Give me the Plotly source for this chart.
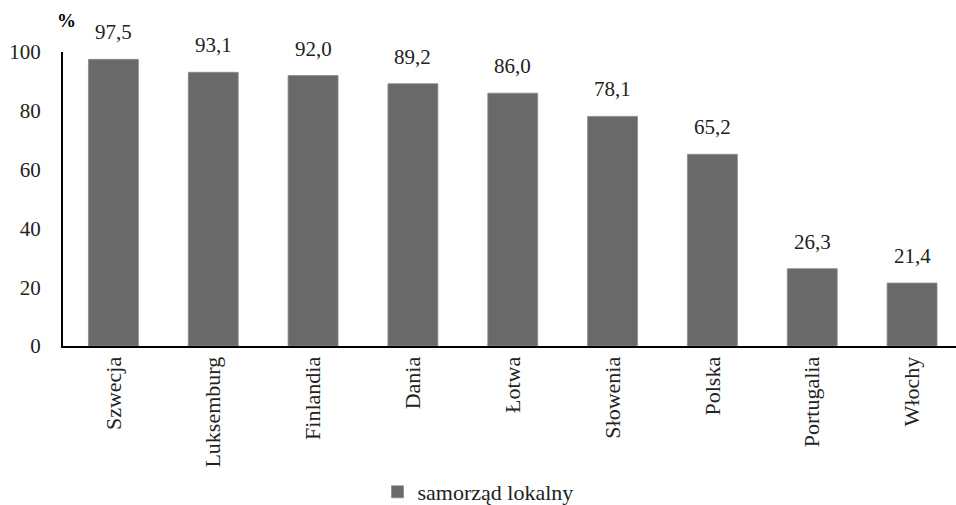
import plotly.graph_objects as go

categories = ["Szwecja", "Luksemburg", "Finlandia", "Dania", "Łotwa", "Słowenia", "Polska", "Portugalia", "Włochy"]
values = [97.5, 93.1, 92.0, 89.2, 86.0, 78.1, 65.2, 26.3, 21.4]
value_labels = ["97,5", "93,1", "92,0", "89,2", "86,0", "78,1", "65,2", "26,3", "21,4"]
series_name = "samorząd lokalny"
y_ticks = [0, 20, 40, 60, 80, 100]

FONT = "'Liberation Serif', 'Times New Roman', serif"
BAR = "#696969"
NUM = 21
TXT = 22

fig = go.Figure()
fig.add_trace(go.Bar(
    x=categories, y=values, name=series_name,
    marker=dict(color=BAR, line=dict(color="#8a8a8a", width=0.8)),
    showlegend=True,
))

for c, v, t in zip(categories, values, value_labels):
    fig.add_annotation(x=c, y=v, text=t, showarrow=False, yanchor="bottom", yshift=13,
                       font=dict(family=FONT, size=NUM, color="#222"))

fig.add_annotation(xref="paper", yref="paper", x=0.0, y=1.0, xanchor="left", yanchor="bottom",
                   xshift=-8, yshift=19, text="<b>%</b>", showarrow=False,
                   font=dict(family=FONT, size=19, color="#000"))

fig.update_layout(
    width=956, height=505,
    margin=dict(l=63, r=0, t=52, b=159, autoexpand=False),
    plot_bgcolor="white", paper_bgcolor="white",
    bargap=0.5,
    font=dict(family=FONT, size=TXT, color="#222"),
    legend=dict(orientation="h", xref="container", x=0.5, xanchor="center",
                yref="paper", y=-146 / 294, yanchor="middle",
                font=dict(family=FONT, size=TXT, color="#222"), itemwidth=30),
    xaxis=dict(range=[-0.505, 8.44], tickangle=-90, showline=True, linecolor="black", linewidth=2,
               ticks="", showgrid=False, automargin=False,
               tickfont=dict(family=FONT, size=TXT, color="#222")),
    yaxis=dict(range=[0, 100], tickvals=y_ticks, showline=True, linecolor="black", linewidth=2,
               ticks="", showgrid=False, zeroline=False, ticklabelstandoff=16, automargin=False,
               tickfont=dict(family=FONT, size=NUM, color="#222")),
)

fig.write_html("out.html")
